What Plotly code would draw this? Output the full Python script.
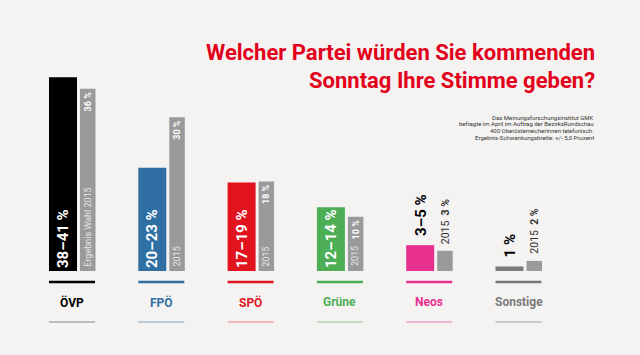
import plotly.graph_objects as go

# ---- data ----
parties = ["ÖVP", "FPÖ", "SPÖ", "Grüne", "Neos", "Sonstige"]
poll_values = [38.3, 20.4, 17.5, 12.6, 5.1, 0.9]          # bar heights
poll_labels = ["38–41 %", "20–23 %", "17–19 %", "12–14 %", "3–5 %", "1 %"]
result_2015 = [36, 30.4, 17.7, 10.7, 4.0, 2.0]             # bar heights
result_labels = ["36 %", "30 %", "18 %", "10 %", "3 %", "2 %"]
result_sub = ["Ergebnis Wahl 2015", "2015", "2015", "2015", "2015", "2015"]

party_colors = ["#000000", "#2f6fa4", "#e0131f", "#4dae55", "#e8308f", "#7a7a7a"]
light_colors = ["#bdbdbd", "#b9c8d6", "#f2b8bd", "#c3d9c4", "#f1b6d3", "#c8c8c8"]
gray = "#9a9a9a"
bg = "#f4f3f2"
title_red = "#e2001a"
FONT = "Roboto"

W, H = 640, 355
x0_px = 49.0          # left edge of first group
group_px = 89.3       # spacing between groups
base_px = 271.0       # baseline (pixels from top)
scale = 5.06          # px per %

main_w = 28 / group_px
gray_off = 31 / group_px
gray_w = 15.5 / group_px

xs = list(range(len(parties)))
inside_main = [v > 8 for v in poll_values]
inside_gray = [v > 8 for v in result_2015]

fig = go.Figure()

fig.add_trace(go.Bar(
    x=xs, y=poll_values, width=main_w, offset=0,
    marker=dict(color=party_colors, line=dict(width=0)),
    text=[f"<b>{t}</b>" if f else "" for t, f in zip(poll_labels, inside_main)],
    textposition="inside",
    insidetextanchor="start", textangle=-90,
    insidetextfont=dict(family=FONT, size=15, color="white"),
    constraintext="none", cliponaxis=False, hoverinfo="skip",
))

fig.add_trace(go.Bar(
    x=xs, y=result_2015, width=gray_w, offset=gray_off,
    marker=dict(color=gray, line=dict(width=0)),
    text=[f"<b>{t}</b>" if f else "" for t, f in zip(result_labels, inside_gray)],
    textposition="inside",
    insidetextanchor="end", textangle=-90,
    insidetextfont=dict(family=FONT, size=9, color="white"),
    constraintext="none", cliponaxis=False, hoverinfo="skip",
))

annotations = []
shapes = []
y_line1 = -(282 - base_px) / scale
y_label = -(302 - base_px) / scale
y_line2 = -(322 - base_px) / scale
grp_w = 46 / group_px
for i, p in enumerate(parties):
    cx_main = i + main_w / 2
    cx_gray = i + gray_off + gray_w / 2
    if inside_gray[i]:
        annotations.append(dict(
            x=cx_gray, y=0.5, xref="x", yref="y",
            text=result_sub[i], textangle=-90, showarrow=False,
            xanchor="center", yanchor="bottom",
            font=dict(family=FONT, size=9, color="#e6e6e6"),
        ))
    else:
        annotations.append(dict(
            x=cx_gray, y=result_2015[i] + 5 / scale, xref="x", yref="y",
            text=f"{result_sub[i]}  <b>{result_labels[i]}</b>", textangle=-90,
            showarrow=False, xanchor="center", yanchor="bottom",
            font=dict(family=FONT, size=10.5, color="#333333"),
        ))
    if not inside_main[i]:
        annotations.append(dict(
            x=cx_main, y=poll_values[i] + 7 / scale, xref="x", yref="y",
            text=f"<b>{poll_labels[i]}</b>", textangle=-90,
            showarrow=False, xanchor="center", yanchor="bottom",
            font=dict(family=FONT, size=15, color="black"),
        ))
    annotations.append(dict(
        x=i + grp_w / 2, y=y_label, xref="x", yref="y",
        text=f"<b>{p}</b>", showarrow=False, xanchor="center", yanchor="middle",
        font=dict(family=FONT, size=12, color=party_colors[i]),
    ))
    shapes.append(dict(type="line", xref="x", yref="y",
                       x0=i, x1=i + grp_w, y0=y_line1, y1=y_line1,
                       line=dict(color=party_colors[i], width=2.5)))
    shapes.append(dict(type="line", xref="x", yref="y",
                       x0=i, x1=i + grp_w, y0=y_line2, y1=y_line2,
                       line=dict(color=light_colors[i], width=2)))

# title
title_lines = ["Welcher Partei würden Sie kommenden", "Sonntag Ihre Stimme geben?"]
for line, ypx in zip(title_lines, [52, 80]):
    annotations.append(dict(
        x=597 / W, y=1 - ypx / H, xref="paper", yref="paper",
        text=f"<b>{line}</b>", showarrow=False,
        xanchor="right", yanchor="middle",
        font=dict(family=FONT, size=22, color=title_red),
    ))
note_lines = [
    "Das Meinungsforschungsinstitut GMK",
    "befragte im April im Auftrag der BezirksRundschau",
    "400 OberösterreicherInnen telefonisch.",
    "Ergebnis-Schwankungsbreite: +/- 5,0 Prozent",
]
for k, line in enumerate(note_lines):
    annotations.append(dict(
        x=596 / W, y=1 - (117 + 6.7 * k) / H, xref="paper", yref="paper",
        text=line, showarrow=False, xanchor="right", yanchor="middle",
        font=dict(family=FONT, size=6, color="#333333"),
    ))

fig.update_layout(
    width=W, height=H,
    margin=dict(l=0, r=0, t=0, b=0),
    paper_bgcolor=bg, plot_bgcolor=bg,
    showlegend=False, barmode="overlay",
    xaxis=dict(range=[-x0_px / group_px, (W - x0_px) / group_px],
               visible=False, fixedrange=True),
    yaxis=dict(range=[-(H - base_px) / scale, base_px / scale],
               visible=False, fixedrange=True),
    annotations=annotations, shapes=shapes,
)

fig.write_html(
    "out.html",
    config={"displayModeBar": False},
    post_script="document.body.style.margin='0';document.body.style.background='#f4f3f2';",
)
